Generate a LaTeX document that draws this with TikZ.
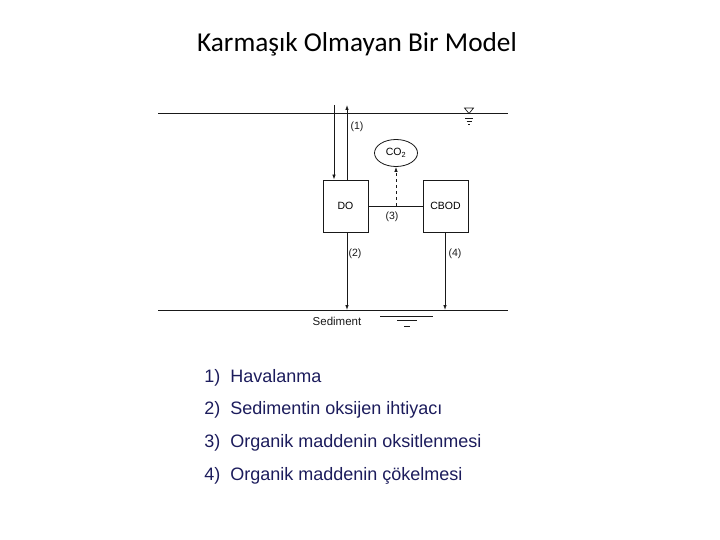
\documentclass[tikz,border=0pt]{standalone}
\usepackage{fontspec}
\setmainfont{Liberation Sans}
\newfontfamily\titlefont{Carlito}
\usetikzlibrary{shapes.geometric,arrows.meta}
\definecolor{listblue}{RGB}{28,28,92}
\definecolor{inkgray}{RGB}{25,25,25}

\tikzset{
  box/.style={draw=inkgray, minimum width=45pt, minimum height=52pt, inner sep=0pt, font=\fontsize{10.5}{12}\selectfont},
  lab/.style={font=\fontsize{10.5}{12}\selectfont, text=inkgray, inner sep=0pt},
  flow/.style={-{Latex[length=5pt,width=3.5pt]}},
  item/.style={font=\fontsize{18}{20}\selectfont, text=listblue, anchor=base west, inner sep=0pt}
}

\begin{document}
\begin{tikzpicture}[x=1pt, y=-1pt, line width=0.8pt, draw=inkgray]
\useasboundingbox (0,0) rectangle (720,540);
% Title
\node[font=\titlefont\fontsize{27.3}{30}\selectfont] (title) at (357,44) {Karmaşık Olmayan Bir Model};

% Water surface and sediment
\draw (158,113) -- (508,113);
\draw (158,310) -- (508,310);
\draw[line width=0.7pt] (464.5,108) -- (473.5,108) -- (469,113.5) -- cycle;
\draw[line width=0.7pt] (465,118) -- (473,118) (466.5,121) -- (471.5,121) (468,124) -- (470,124);

% Boxes
\node[box] (do) at (345.5,206) {DO};
\node[box] (cbod) at (445.5,206) {CBOD};
\node[draw=inkgray, ellipse, minimum width=43pt, minimum height=27pt, inner sep=0pt, font=\fontsize{10.5}{12}\selectfont] (co2) at (396,153) {CO\textsubscript{2}};

% (1) reaeration
\coordinate (airin) at (334,105);
\coordinate (airout) at (347,105);
\draw[flow] (airin) -- (airin |- do.north);
\draw[flow] (airout |- do.north) -- (airout);
\node[lab] (n1) at (357,127) {(1)};

% (3) oxidation
\draw (do.east) -- (cbod.west);
\coordinate (ox) at (396,206);
\draw[flow, dashed] (ox) -- (co2.south);
\node[lab] (n3) at (392,217) {(3)};

% (2) and (4) down to the bed
\coordinate (sod) at (347,310);
\coordinate (settle) at (445,310);
\draw[flow] (sod |- do.south) -- (sod);
\draw[flow] (settle |- cbod.south) -- (settle);
\node[lab] (n2) at (355,254) {(2)};
\node[lab] (n4) at (455,254) {(4)};

% Sediment
\node[lab, font=\fontsize{11.5}{12}\selectfont] (sed) at (337,321) {Sediment};
\draw[line width=0.7pt] (380,316) -- (433,316) (397,320.5) -- (417,320.5) (404,326) -- (410,326);

% Legend
\foreach \k/\txt [count=\i from 0] in {1/Havalanma, 2/Sedimentin oksijen ihtiyacı, 3/Organik maddenin oksitlenmesi, 4/Organik maddenin çökelmesi}
{
  \node[item] (num\k) at (204,382+32.7*\i) {\k)};
  \node[item] (txt\k) at (230,382+32.7*\i) {\txt};
}
\end{tikzpicture}
\end{document}
